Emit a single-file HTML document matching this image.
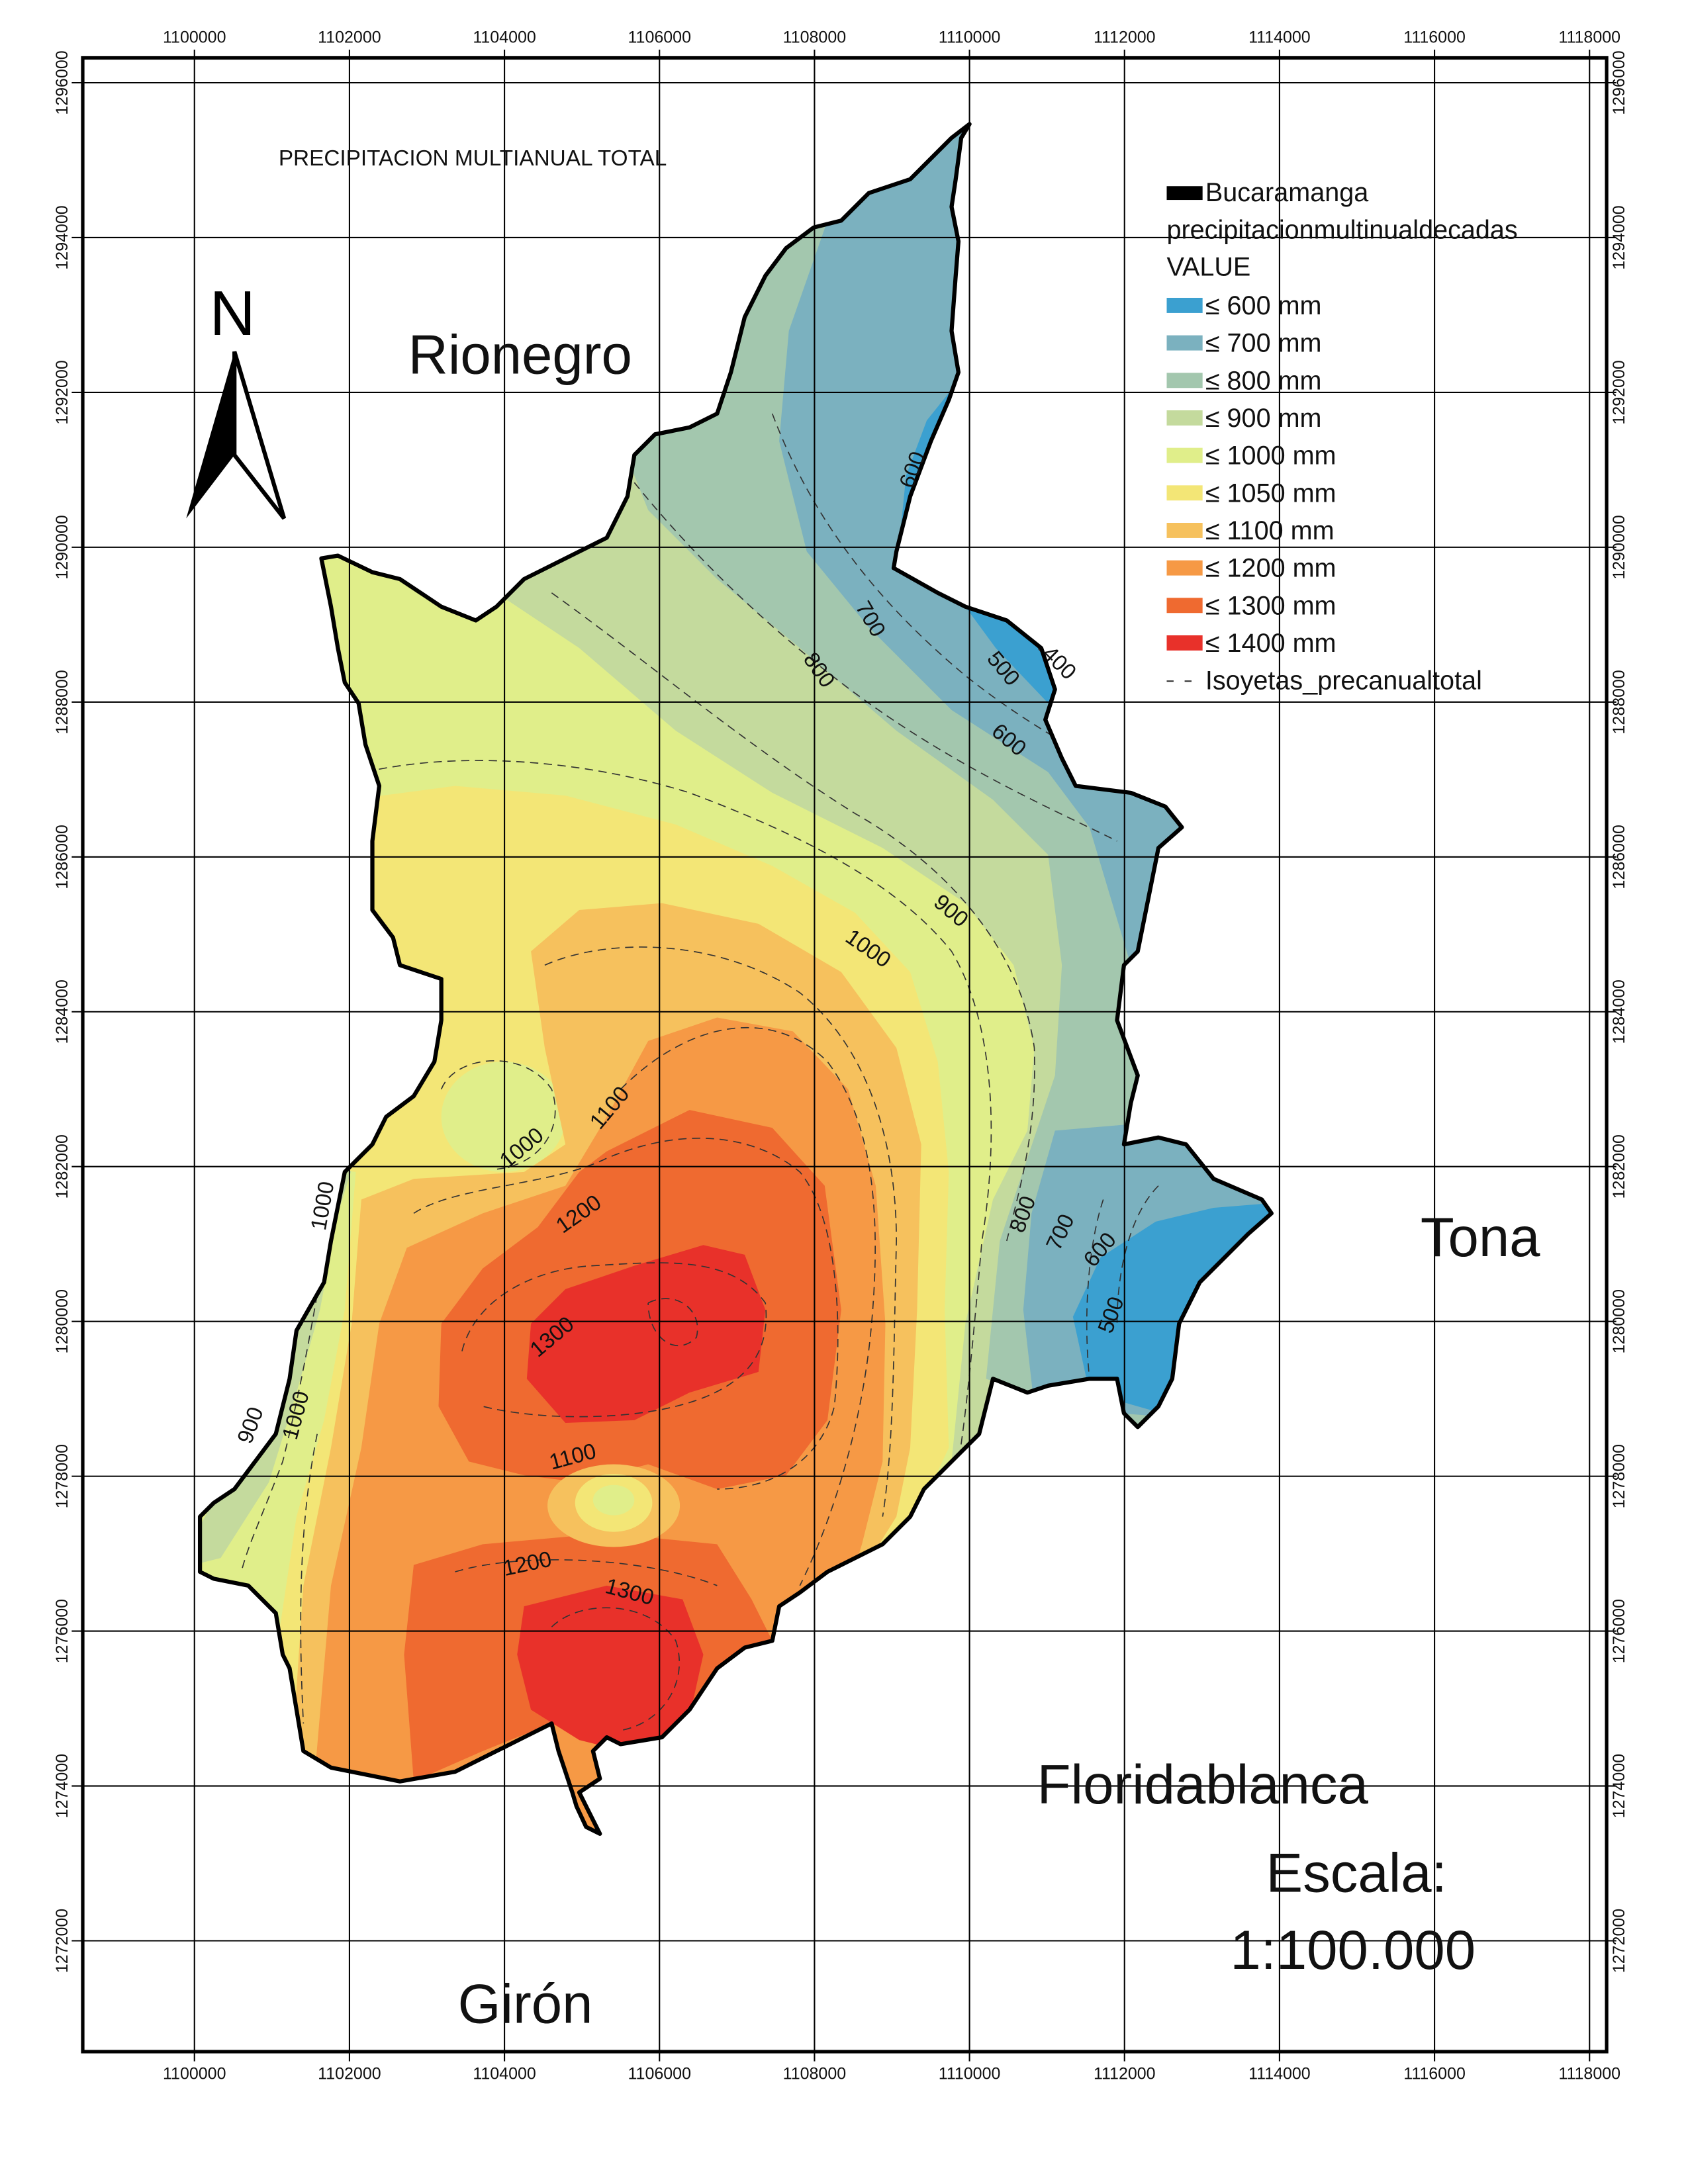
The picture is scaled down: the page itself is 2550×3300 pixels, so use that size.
<!DOCTYPE html>
<html><head><meta charset="utf-8"><style>
html,body{margin:0;padding:0;background:#fff}
svg{display:block}
text{font-family:"Liberation Sans",sans-serif}
</style></head><body>
<svg id="map" width="2550" height="3300" viewBox="0 0 1224 1584" xmlns="http://www.w3.org/2000/svg">
<defs>
<clipPath id="clipOutline">
<path id="outlineShape" d="M703,90 L697,100 L693,130 L690,150 L695,175 L693,200 L690,240 L695,270 L688,290 L675,320 L660,360 L650,400 L648,412 L680,430 L700,440 L730,450 L755,470 L765,500 L758,522 L770,550 L780,570 L820,575 L845,585 L857,600 L840,615 L835,640 L825,690 L815,700 L810,740 L825,780 L820,800 L815,830 L840,825 L860,830 L880,855 L915,870 L922,880 L905,895 L870,930 L855,960 L850,1000 L840,1020 L825,1035 L815,1025 L810,1000 L790,1000 L760,1005 L745,1010 L720,1000 L710,1040 L690,1060 L670,1080 L660,1100 L640,1120 L600,1140 L580,1155 L565,1165 L560,1190 L540,1195 L520,1210 L500,1240 L480,1260 L450,1265 L440,1260 L430,1270 L435,1290 L420,1300 L430,1320 L435,1330 L425,1325 L418,1310 L415,1300 L405,1270 L400,1250 L380,1260 L360,1270 L330,1285 L290,1292 L240,1282 L220,1270 L215,1240 L210,1210 L205,1200 L200,1170 L180,1150 L155,1145 L145,1140 L145,1100 L155,1090 L170,1080 L185,1060 L200,1040 L210,1000 L215,965 L235,930 L240,900 L250,850 L260,840 L270,830 L280,810 L300,795 L315,770 L320,740 L320,710 L290,700 L285,680 L270,660 L270,610 L275,570 L265,540 L260,510 L250,495 L245,470 L240,440 L233,405 L245,403 L270,415 L290,420 L320,440 L345,450 L360,440 L380,420 L410,405 L440,390 L455,360 L460,330 L475,315 L500,310 L520,300 L530,270 L540,230 L555,200 L570,180 L590,165 L610,160 L630,140 L660,130 L690,100 Z"/>
</clipPath>
</defs>

<g id="bands" clip-path="url(#clipOutline)">
<rect x="0" y="0" width="1224" height="1584" fill="#e0ee8a"/>
<path fill="#c4da9d" d="M360,430 L420,470 L490,530 L560,575 L640,615 L700,655 L735,700 L750,760 L745,820 L720,870 L700,960 L690,1060 L1000,1060 L1000,0 L440,0 L445,330 Z"/>
<path fill="#c4da9d" d="M140,1135 L160,1130 L195,1075 L215,1010 L232,950 L245,880 L256,845 L240,838 L210,950 L170,1060 L138,1120 Z"/>
<path fill="#a3c7ae" d="M450,320 L470,370 L520,420 L580,470 L650,530 L720,580 L760,620 L770,700 L765,780 L745,840 L725,900 L715,1000 L1000,1100 L1000,0 L470,0 Z"/>
<path fill="#7bb1bf" d="M620,0 L600,160 L572,240 L565,320 L585,400 L630,455 L690,515 L760,560 L790,600 L805,650 L820,700 L1000,700 L1000,0 Z"/>
<path fill="#7bb1bf" d="M765,820 L748,880 L742,950 L750,1020 L1000,1040 L1000,800 Z"/>
<path fill="#3ba0d0" d="M692,280 L672,305 L657,345 L652,395 L668,375 L690,330 L705,285 Z"/>
<path fill="#3ba0d0" d="M700,440 L722,470 L760,510 L800,550 L840,578 L875,600 L900,560 L760,430 Z"/>
<path fill="#3ba0d0" d="M790,1010 L778,955 L798,912 L838,886 L880,876 L930,872 L930,1050 Z"/>
<path fill="#f3e676" d="M200,600 L270,578 L330,570 L410,577 L490,598 L560,628 L620,662 L660,705 L680,770 L688,850 L685,950 L688,1050 L660,1110 L600,1200 L200,1350 L200,1200 L215,1100 L235,1030 L250,950 L258,850 L200,840 Z"/>
<ellipse cx="365" cy="810" rx="45" ry="40" fill="#e0ee8a"/>
<path fill="#f6c15d" d="M385,690 L420,660 L480,655 L550,670 L610,705 L650,760 L668,830 L665,950 L660,1050 L650,1100 L600,1180 L300,1320 L210,1300 L220,1150 L240,1050 L255,960 L262,870 L300,855 L380,850 L410,830 L395,760 Z"/>
<path fill="#f69945" d="M440,810 L470,755 L520,738 L575,748 L615,790 L635,860 L642,960 L640,1060 L625,1120 L600,1200 L500,1260 L450,1350 L400,1350 L300,1310 L228,1290 L240,1150 L262,1050 L275,960 L295,905 L350,880 L410,860 Z"/>
<path fill="#ef6a30" d="M440,835 L500,805 L560,818 L598,860 L610,950 L600,1030 L570,1070 L520,1080 L470,1062 L420,1075 L380,1070 L340,1060 L318,1020 L320,960 L350,920 L390,890 L420,850 Z"/>
<path fill="#ef6a30" d="M300,1135 L350,1120 L440,1112 L520,1120 L545,1160 L560,1190 L520,1215 L480,1265 L440,1268 L400,1250 L350,1270 L300,1292 L293,1200 Z"/>
<path fill="#e8312a" d="M410,935 L460,918 L510,903 L540,910 L555,950 L550,995 L500,1010 L460,1030 L410,1032 L382,1000 L385,960 Z"/>
<path fill="#e8312a" d="M380,1165 L440,1150 L495,1160 L510,1200 L500,1245 L460,1272 L420,1262 L385,1240 L375,1200 Z"/>
<ellipse cx="445" cy="1092" rx="48" ry="30" fill="#f6c15d"/>
<ellipse cx="445" cy="1090" rx="28" ry="21" fill="#f3e676"/>
<ellipse cx="445" cy="1088" rx="15" ry="11" fill="#e0ee8a"/>

<g fill="none" stroke="#333" stroke-width="0.8" stroke-dasharray="6 4">
<path d="M265,560 C330,545 420,550 500,575 C580,605 650,640 690,690 C720,740 725,820 712,900 C705,980 700,1030 695,1060"/>
<path d="M400,430 C470,480 540,540 620,590 C690,630 740,690 750,760 C752,820 740,860 730,900"/>
<path d="M460,350 C500,400 560,460 630,510 C700,560 770,590 810,610"/>
<path d="M560,300 C590,380 640,440 700,490 C750,530 800,555 850,580"/>
<path d="M690,330 C670,360 660,390 658,405"/>
<path d="M740,455 C760,480 780,500 800,520"/>
<path d="M395,700 C440,680 520,680 580,720 C630,760 650,830 650,900 C648,980 648,1050 640,1100"/>
<path d="M450,790 C500,740 560,730 600,770 C630,810 640,870 632,960 C625,1040 600,1110 580,1150"/>
<path d="M300,880 C330,860 400,860 440,840 C500,815 550,825 580,850 C605,880 612,950 605,1020 C595,1060 560,1080 520,1080"/>
<path d="M335,980 C345,940 390,920 430,918 C480,915 530,910 555,945 C560,990 530,1010 490,1020 C450,1030 390,1030 350,1020"/>
<path d="M470,945 C490,935 510,950 505,970 C490,985 470,970 470,945"/>
<path d="M330,1140 C380,1125 470,1130 520,1150"/>
<path d="M400,1180 C420,1160 470,1160 490,1190 C500,1220 480,1250 450,1255"/>
<path d="M240,880 C230,940 220,1000 205,1060 C190,1100 180,1120 175,1140"/>
<path d="M230,1040 C220,1090 215,1150 220,1250"/>
<path d="M320,790 C330,765 380,760 400,790 C410,820 390,845 360,848"/>
<path d="M800,870 C790,900 785,950 790,1000"/>
<path d="M840,860 C820,880 810,920 810,960"/>
</g>
</g>

<use href="#outlineShape" fill="none" stroke="#000" stroke-width="3" stroke-linejoin="round"/>

<g id="grid"></g>
<rect x="60" y="42" width="1105" height="1446" fill="none" stroke="#000" stroke-width="2.5"/>

<g font-size="16" fill="#111">
<text transform="translate(662,355) rotate(-70)">600</text>
<text transform="translate(620,440) rotate(60)">700</text>
<text transform="translate(582,478) rotate(55)">800</text>
<text transform="translate(715,478) rotate(50)">500</text>
<text transform="translate(755,475) rotate(45)">400</text>
<text transform="translate(718,532) rotate(40)">600</text>
<text transform="translate(676,656) rotate(40)">900</text>
<text transform="translate(612,682) rotate(35)">1000</text>
<text transform="translate(435,820) rotate(-50)">1100</text>
<text transform="translate(368,848) rotate(-40)">1000</text>
<text transform="translate(408,895) rotate(-35)">1200</text>
<text transform="translate(390,985) rotate(-40)">1300</text>
<text transform="translate(236,893) rotate(-80)">1000</text>
<text transform="translate(182,1048) rotate(-70)">900</text>
<text transform="translate(215,1045) rotate(-75)">1000</text>
<text transform="translate(400,1066) rotate(-15)">1100</text>
<text transform="translate(366,1143) rotate(-12)">1200</text>
<text transform="translate(438,1155) rotate(15)">1300</text>
<text transform="translate(742,895) rotate(-70)">800</text>
<text transform="translate(768,908) rotate(-65)">700</text>
<text transform="translate(793,920) rotate(-50)">600</text>
<text transform="translate(806,968) rotate(-70)">500</text>
</g>

<text x="202" y="120" font-size="16" fill="#111">PRECIPITACION MULTIANUAL TOTAL</text>
<text x="296" y="271" font-size="40" fill="#111">Rionegro</text>
<text x="1030" y="911" font-size="40" fill="#111">Tona</text>
<text x="752" y="1308" font-size="40" fill="#111">Floridablanca</text>
<text x="918" y="1372" font-size="40" fill="#111">Escala:</text>
<text x="892" y="1428" font-size="40" fill="#111">1:100.000</text>
<text x="332" y="1467" font-size="40" fill="#111">Girón</text>

<g>
<text x="152" y="243" font-size="46" fill="#000">N</text>
<path d="M170,255 L135,376 L170,330 Z" fill="#000"/>
<path d="M170,255 L206,376 L170,330 Z" fill="#fff" stroke="#000" stroke-width="3"/>
</g>

<g id="legend"></g>
</svg>
<script>
const xTicks = [1100000,1102000,1104000,1106000,1108000,1110000,1112000,1114000,1116000,1118000];
const yTicks = [1296000,1294000,1292000,1290000,1288000,1286000,1284000,1282000,1280000,1278000,1276000,1274000,1272000];
const legendLabels = ["≤ 600 mm","≤ 700 mm","≤ 800 mm","≤ 900 mm","≤ 1000 mm","≤ 1050 mm","≤ 1100 mm","≤ 1200 mm","≤ 1300 mm","≤ 1400 mm"];
const legendColors = ["#3ba0d0","#7bb1bf","#a3c7ae","#c4da9d","#e0ee8a","#f3e676","#f6c15d","#f69945","#ef6a30","#e8312a"];
const NS = "http://www.w3.org/2000/svg";
function xs(v){return 141 + (v-1100000)/2000*112.4;}
function ys(v){return 60 + (1296000-v)/2000*112.3;}
function mk(tag, attrs, parent){const e=document.createElementNS(NS,tag);for(const k in attrs)e.setAttribute(k,attrs[k]);parent.appendChild(e);return e;}
const grid=document.getElementById('grid');
xTicks.forEach(v=>{
  const x=xs(v);
  const l=mk('line',{x1:x,y1:36,x2:x,y2:1495,stroke:'#000','stroke-width':1},grid);
  
  
  const t=mk('text',{x:x,y:31,'font-size':12,'text-anchor':'middle',fill:'#111'},grid);
  t.textContent=v;
  
  
  const b=mk('text',{x:x,y:1508,'font-size':12,'text-anchor':'middle',fill:'#111'},grid);
  b.textContent=v;
  
  
});
yTicks.forEach(v=>{
  const y=ys(v);
  const l=mk('line',{x1:52,y1:y,x2:1172,y2:y,stroke:'#000','stroke-width':1},grid);
  
  
  const t=mk('text',{transform:'translate(49,'+y+') rotate(-90)','font-size':12,'text-anchor':'middle',fill:'#111'},grid);
  t.textContent=v;
  
  
  const r=mk('text',{transform:'translate(1178,'+y+') rotate(-90)','font-size':12,'text-anchor':'middle',fill:'#111'},grid);
  r.textContent=v;
  
  
});
const lg=document.getElementById('legend');
const bk=mk('rect',{x:846,y:135,width:26,height:10,fill:'#000'},lg);


const h1=mk('text',{x:874,y:146,'font-size':19,fill:'#111'},lg);h1.textContent='Bucaramanga';


const h2=mk('text',{x:846,y:173,'font-size':19,fill:'#111'},lg);h2.textContent='precipitacionmultinualdecadas';


const h3=mk('text',{x:846,y:200,'font-size':19,fill:'#111'},lg);h3.textContent='VALUE';


legendLabels.forEach((lab,i)=>{
  const y=222+i*27.2;
  const s=mk('rect',{x:846,y:y-6,width:26,height:11,fill:legendColors[i]},lg);
  
  
  const t=mk('text',{x:874,y:y+6,'font-size':19,fill:'#111'},lg);
  t.textContent=lab;
  
  
});
const dy=222+10*27.2;
const dl=mk('line',{x1:846,y1:dy,x2:872,y2:dy,stroke:'#333','stroke-width':1,'stroke-dasharray':'5 8'},lg);


const dt=mk('text',{x:874,y:dy+6,'font-size':19,fill:'#111'},lg);
dt.textContent='Isoyetas_precanualtotal';


</script>
</body></html>
